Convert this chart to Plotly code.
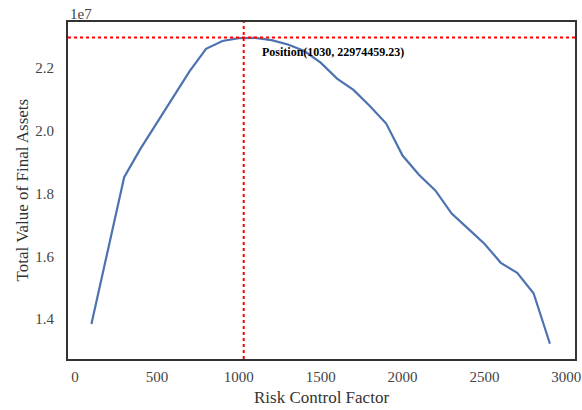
import plotly.graph_objects as go

# Risk control factor sweep and resulting total value of final assets
risk_factor = [100, 200, 300, 400, 500, 600, 700, 800, 900, 1000,
               1100, 1200, 1300, 1400, 1500, 1600, 1700, 1800, 1900, 2000,
               2100, 2200, 2300, 2400, 2500, 2600, 2700, 2800, 2900]
final_assets = [13.84e6, 16.22e6, 18.52e6, 19.43e6, 20.26e6, 21.11e6, 21.90e6, 22.61e6, 22.86e6, 22.95e6,
                22.96e6, 22.89e6, 22.75e6, 22.54e6, 22.17e6, 21.66e6, 21.30e6, 20.79e6, 20.23e6, 19.21e6,
                18.60e6, 18.10e6, 17.36e6, 16.88e6, 16.40e6, 15.79e6, 15.47e6, 14.82e6, 13.21e6]

best_x = 1030
best_y = 22974459.23

y_ticks = [1.4e7, 1.6e7, 1.8e7, 2.0e7, 2.2e7]
y_tick_text = ["1.4", "1.6", "1.8", "2.0", "2.2"]
x_ticks = [0, 500, 1000, 1500, 2000, 2500, 3000]

serif = "Liberation Serif, Times New Roman, serif"

fig = go.Figure()
fig.add_trace(go.Scatter(
    x=risk_factor, y=final_assets, mode="lines",
    line=dict(color="#4c72b0", width=2.2), showlegend=False,
))

# optimum marker lines
fig.add_shape(type="line", xref="x", yref="paper", x0=best_x, x1=best_x, y0=0, y1=1,
              line=dict(color="red", width=2, dash="dot"))
fig.add_shape(type="line", xref="paper", yref="y", x0=0, x1=1, y0=best_y, y1=best_y,
              line=dict(color="red", width=2, dash="dot"))

fig.add_annotation(x=best_x + 100, y=best_y - 4.6e5, xref="x", yref="y",
                   text=f"<b>Position({best_x}, {best_y:.2f})</b>",
                   showarrow=False, xanchor="left", yanchor="middle",
                   font=dict(family=serif, size=12, color="black"))

# offset label for the y axis
fig.add_annotation(x=0, y=1, xref="paper", yref="paper", text="1e7",
                   showarrow=False, xanchor="left", yanchor="bottom", yshift=-2,
                   font=dict(family=serif, size=15, color="#444"))

# axis titles
fig.add_annotation(x=0.5, y=0, xref="paper", yref="paper", text="Risk Control Factor",
                   showarrow=False, xanchor="center", yanchor="middle", yshift=-38,
                   font=dict(family=serif, size=17, color="#333"))
fig.add_annotation(x=0, y=0.5, xref="paper", yref="paper", text="Total Value of Final Assets",
                   showarrow=False, xanchor="center", yanchor="middle", xshift=-46, textangle=-90,
                   font=dict(family=serif, size=17, color="#333"))

fig.update_layout(
    width=582, height=410,
    margin=dict(l=68, r=7, t=22, b=51),
    paper_bgcolor="white", plot_bgcolor="white",
    font=dict(family=serif, color="#333"),
)
fig.update_xaxes(
    range=[-43, 3053], tickvals=x_ticks, showgrid=False, zeroline=False,
    showline=True, mirror=True, linecolor="#333", linewidth=2,
    ticks="", ticklabelstandoff=3, automargin=False,
    tickfont=dict(family=serif, size=15, color="#444"),
)
fig.update_yaxes(
    range=[1.2725e7, 2.3466e7], tickvals=y_ticks, ticktext=y_tick_text,
    showgrid=False, zeroline=False,
    showline=True, mirror=True, linecolor="#333", linewidth=2,
    ticks="", ticklabelstandoff=9, automargin=False,
    tickfont=dict(family=serif, size=15, color="#444"),
)

fig.write_html("out.html")
